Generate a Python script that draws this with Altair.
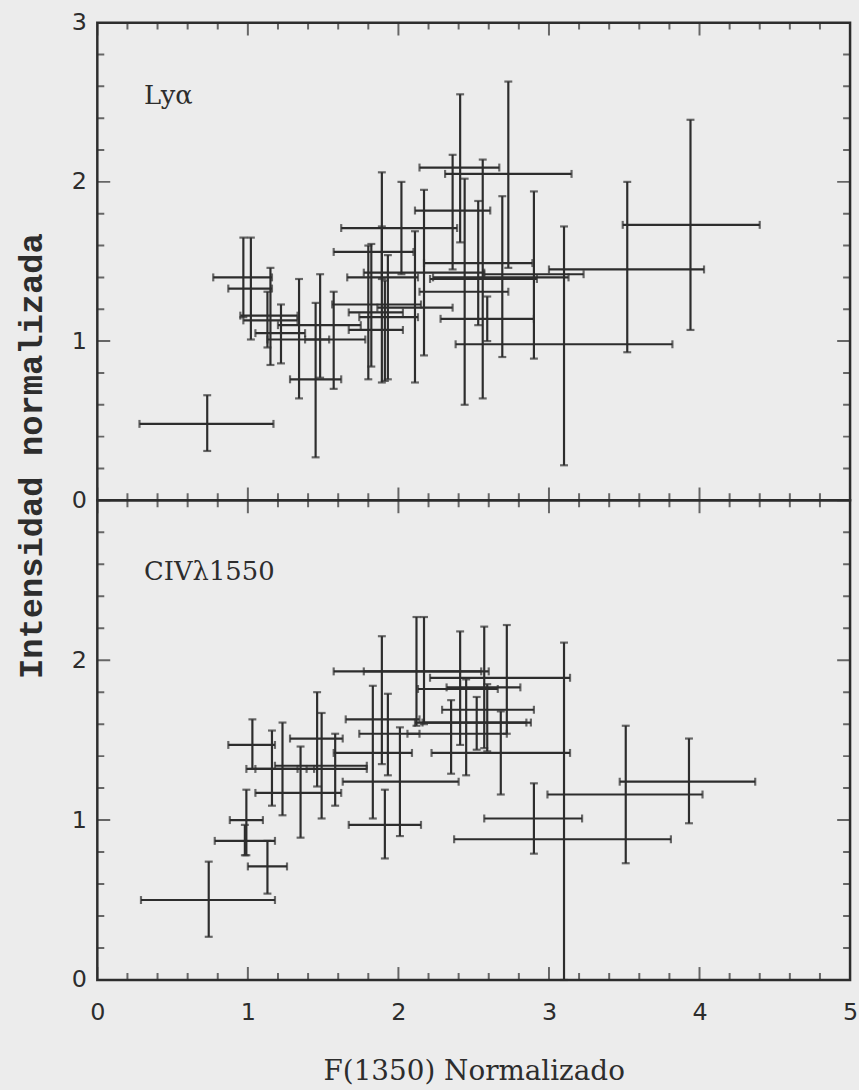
import altair as alt
import pandas as pd

# ---------------- data ----------------
# Upper panel: Ly alpha
lya_x   = [0.73, 0.97, 1.02, 1.13, 1.15, 1.22, 1.34, 1.45, 1.48, 1.57, 1.82, 1.89, 1.80, 1.93, 2.02, 2.11,
           2.17, 1.89, 2.36, 2.41, 2.44, 2.53, 2.56, 2.59, 2.69, 2.73, 2.90, 3.10, 3.52, 3.94, 1.91]
lya_xlo = [0.28, 0.77, 0.87, 0.97, 0.95, 1.05, 1.13, 1.28, 1.20, 1.38, 1.56, 1.66, 1.67, 1.74, 1.62, 1.86,
           1.77, 1.57, 2.11, 2.14, 2.14, 2.17, 2.21, 2.28, 2.23, 2.31, 2.57, 2.38, 3.00, 3.49, 1.67]
lya_xhi = [1.17, 1.16, 1.16, 1.33, 1.33, 1.38, 1.54, 1.62, 1.75, 1.78, 2.15, 2.13, 2.03, 2.13, 2.39, 2.36,
           2.57, 2.10, 2.61, 2.67, 2.73, 2.89, 2.92, 2.90, 3.13, 3.15, 3.23, 3.82, 4.03, 4.40, 2.03]
lya_y   = [0.48, 1.40, 1.33, 1.13, 1.16, 1.05, 1.01, 0.76, 1.10, 1.01, 1.23, 1.40, 1.18, 1.15, 1.71, 1.21,
           1.43, 1.56, 1.82, 2.09, 1.31, 1.49, 1.39, 1.14, 1.40, 2.05, 1.42, 0.98, 1.45, 1.73, 1.07]
lya_ylo = [0.31, 1.15, 1.01, 0.96, 0.85, 0.86, 0.64, 0.27, 0.77, 0.70, 0.84, 0.74, 0.76, 0.76, 1.42, 0.74,
           0.91, 1.39, 1.45, 1.62, 0.60, 1.10, 0.64, 1.00, 0.90, 1.46, 0.89, 0.22, 0.93, 1.07, 0.75]
lya_yhi = [0.66, 1.65, 1.65, 1.31, 1.46, 1.23, 1.39, 1.24, 1.42, 1.31, 1.61, 2.06, 1.60, 1.54, 2.00, 1.69,
           1.95, 1.72, 2.17, 2.55, 2.02, 1.88, 2.14, 1.28, 1.91, 2.63, 1.94, 1.72, 2.00, 2.39, 1.38]

# Lower panel: CIV 1550
civ_x   = [0.74, 1.13, 0.99, 0.98, 1.03, 1.46, 1.16, 1.23, 1.49, 1.35, 1.83, 1.89, 1.93, 2.01, 1.91, 2.12,
           2.17, 2.41, 2.57, 2.72, 2.52, 2.45, 2.35, 2.59, 2.68, 2.90, 3.10, 3.51, 3.93, 1.58]
civ_xlo = [0.29, 1.00, 0.88, 0.78, 0.87, 1.28, 0.99, 1.05, 1.18, 1.05, 1.57, 1.65, 1.74, 1.63, 1.67, 1.57,
           1.77, 2.13, 2.32, 2.21, 2.11, 2.16, 2.06, 2.29, 2.22, 2.57, 2.37, 2.99, 3.47, 1.39]
civ_xhi = [1.18, 1.26, 1.10, 1.18, 1.18, 1.63, 1.33, 1.44, 1.79, 1.62, 2.09, 2.14, 2.14, 2.40, 2.15, 2.60,
           2.55, 2.66, 2.81, 3.14, 2.88, 2.85, 2.72, 2.90, 3.14, 3.22, 3.81, 4.02, 4.37, 1.79]
civ_y   = [0.50, 0.71, 1.00, 0.87, 1.47, 1.51, 1.32, 1.32, 1.34, 1.17, 1.42, 1.63, 1.54, 1.24, 0.97, 1.93,
           1.93, 1.82, 1.83, 1.89, 1.61, 1.61, 1.54, 1.69, 1.42, 1.01, 0.88, 1.16, 1.24, 1.32]
civ_ylo = [0.27, 0.54, 0.78, 0.78, 1.32, 1.21, 1.09, 1.03, 1.01, 0.89, 1.01, 1.35, 1.28, 0.90, 0.76, 1.59,
           1.60, 1.47, 1.45, 1.54, 1.44, 1.28, 1.29, 1.43, 1.16, 0.79, 0.00, 0.73, 0.98, 1.09]
civ_yhi = [0.74, 0.87, 1.19, 0.97, 1.63, 1.80, 1.56, 1.61, 1.67, 1.46, 1.84, 2.15, 1.79, 1.58, 1.19, 2.27,
           2.27, 2.18, 2.21, 2.22, 1.77, 1.88, 1.75, 1.85, 1.68, 1.23, 2.11, 1.59, 1.51, 1.54]

# axis ticks and labels
x_major_ticks = [0, 1, 2, 3, 4, 5]
x_minor_ticks = [0.2, 0.4, 0.6, 0.8, 1.2, 1.4, 1.6, 1.8, 2.2, 2.4, 2.6, 2.8,
                 3.2, 3.4, 3.6, 3.8, 4.2, 4.4, 4.6, 4.8]
y_major_ticks = [0, 1, 2, 3]
y_minor_ticks = [0.2, 0.4, 0.6, 0.8, 1.2, 1.4, 1.6, 1.8, 2.2, 2.4, 2.6, 2.8]
x_tick_labels = [0, 1, 2, 3, 4, 5]
lya_y_tick_labels = [0, 1, 2, 3]
civ_y_tick_labels = [0, 1, 2]
panel_names = ["Lyα", "CIVλ1550"]

# ---------------- styling ----------------
W = 758
H_TOP = 481
H_BOT = 483
INK = "#2d2d2d"
PAPER = "#ececec"
LW = 2.2

xscale = alt.Scale(domain=[0, 5], nice=False, zero=False)
yscale = alt.Scale(domain=[0, 3], nice=False, zero=False)


def make_panel(df, height, name, name_font, name_size, name_pos, x_axis, y_axis):
    def X(f):
        return alt.X(f, type="quantitative", scale=xscale, axis=x_axis)

    def Y(f):
        return alt.Y(f, type="quantitative", scale=yscale, axis=y_axis)

    base = alt.Chart(df)
    hbar = base.mark_rule(color=INK, strokeWidth=LW).encode(x=X("xlo"), x2="xhi", y=Y("y"))
    vbar = base.mark_rule(color=INK, strokeWidth=LW).encode(x=X("x"), y=Y("ylo"), y2="yhi")
    cap_xl = base.mark_tick(orient="vertical", size=8, thickness=LW, color=INK).encode(x=X("xlo"), y=Y("y"))
    cap_xh = base.mark_tick(orient="vertical", size=8, thickness=LW, color=INK).encode(x=X("xhi"), y=Y("y"))
    cap_yl = base.mark_tick(orient="horizontal", size=8, thickness=LW, color=INK).encode(x=X("x"), y=Y("ylo"))
    cap_yh = base.mark_tick(orient="horizontal", size=8, thickness=LW, color=INK).encode(x=X("x"), y=Y("yhi"))

    layers = [hbar, vbar, cap_xl, cap_xh, cap_yl, cap_yh]

    # inward frame ticks (clipped so only the inner half shows)
    for vals, half in ((x_major_ticks, 13), (x_minor_ticks, 7)):
        d = alt.Chart(pd.DataFrame({"v": vals}))
        for ypix in (0, height):
            layers.append(d.mark_tick(orient="vertical", size=2 * half, thickness=2, color=INK, clip=True)
                          .encode(x=X("v"), y=alt.value(ypix)))
    for vals, half in ((y_major_ticks, 13), (y_minor_ticks, 7)):
        d = alt.Chart(pd.DataFrame({"v": vals}))
        for xpix in (0, W):
            layers.append(d.mark_tick(orient="horizontal", size=2 * half, thickness=2, color=INK, clip=True)
                          .encode(y=Y("v"), x=alt.value(xpix)))

    lab = alt.Chart(pd.DataFrame({"t": [name], "x": [name_pos[0]], "y": [name_pos[1]]})).mark_text(
        align="left", baseline="alphabetic", font=name_font, fontSize=name_size, color=INK
    ).encode(x=X("x"), y=Y("y"), text="t:N")
    layers.append(lab)

    return alt.layer(*layers).properties(width=W, height=height)


common_axis = dict(ticks=False, domain=False, grid=False, labelFont="DejaVu Sans", labelFontSize=24,
                   labelColor=INK, format="d", labelFlush=False)

top_y_axis = alt.Axis(values=lya_y_tick_labels, title="Intensidad normalizada", labelPadding=11,
                      titleFont="Liberation Mono", titleFontSize=34, titleFontWeight="bold", titleColor=INK,
                      titleAngle=270, titleX=-66, titleY=436, titleAlign="center", titleBaseline="middle",
                      **common_axis)
bot_y_axis = alt.Axis(values=civ_y_tick_labels, title=None, labelPadding=11, **common_axis)
bot_x_axis = alt.Axis(values=x_tick_labels, title="F(1350) Normalizado", labelPadding=21,
                      titleFont="DejaVu Serif", titleFontSize=28, titleFontWeight="normal", titleColor=INK,
                      titlePadding=33, **common_axis)

df_lya = pd.DataFrame(dict(x=lya_x, xlo=lya_xlo, xhi=lya_xhi, y=lya_y, ylo=lya_ylo, yhi=lya_yhi))
df_civ = pd.DataFrame(dict(x=civ_x, xlo=civ_xlo, xhi=civ_xhi, y=civ_y, ylo=civ_ylo, yhi=civ_yhi))

top = make_panel(df_lya, H_TOP, panel_names[0], "DejaVu Serif", 26, (0.31, 2.49), None, top_y_axis)
bottom = make_panel(df_civ, H_BOT, panel_names[1], "DejaVu Serif", 26, (0.31, 2.50), bot_x_axis, bot_y_axis)

chart = alt.vconcat(top, bottom, spacing=0, bounds="flush").properties(
    background=PAPER,
    padding={"left": 13, "top": 5, "right": 0, "bottom": 0},
).configure_view(stroke=INK, strokeWidth=2.5, fill=None)

chart.save("out.html", embed_options={"renderer": "svg", "actions": False})
